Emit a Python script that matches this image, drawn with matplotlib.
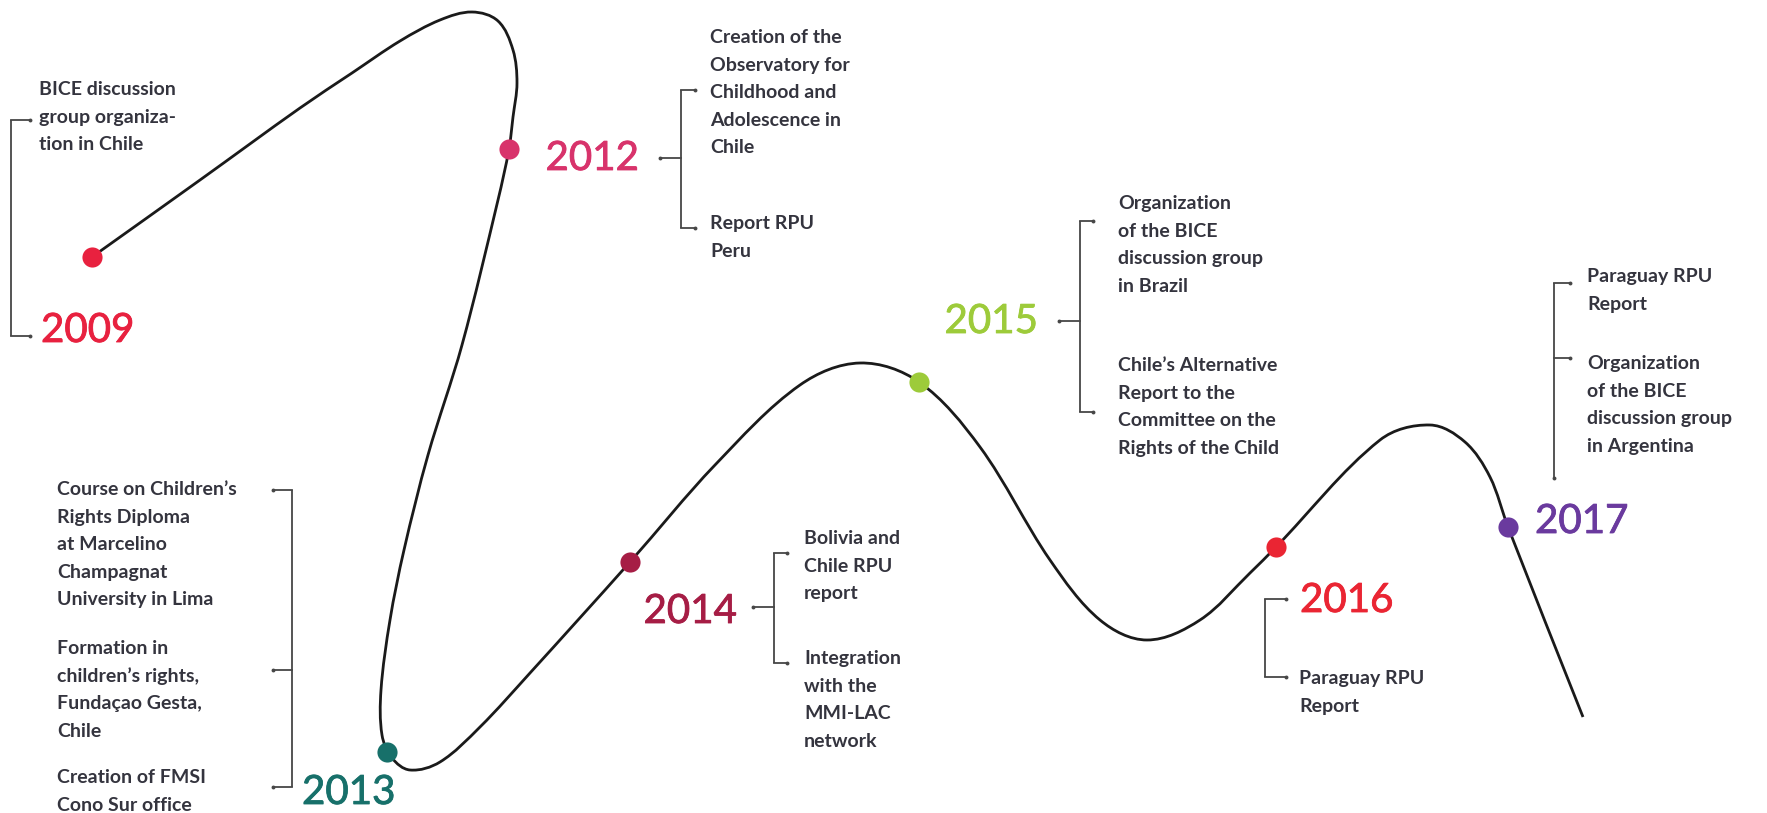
import numpy as np
import matplotlib
matplotlib.use("Agg")
import matplotlib.pyplot as plt
import matplotlib.patheffects as pe
from matplotlib.path import Path
from matplotlib.patches import PathPatch

# ---------------- data ----------------
years = ["2009", "2012", "2013", "2014", "2015", "2016", "2017"]
year_colors = ["#e8213f", "#d8336b", "#17706a", "#a61d45", "#9dcb3a", "#ea2533", "#6a3a9e"]

events = {
    "2009": ["BICE discussion\ngroup organiza-\ntion in Chile"],
    "2012": ["Creation of the\nObservatory for\nChildhood and\nAdolescence in\nChile",
             "Report RPU\nPeru"],
    "2013": ["Course on Children\u2019s\nRights Diploma\nat Marcelino\nChampagnat\nUniversity in Lima",
             "Formation in\nchildren\u2019s rights,\nFunda\u00e7ao Gesta,\nChile",
             "Creation of FMSI\nCono Sur office"],
    "2014": ["Bolivia and\nChile RPU\nreport",
             "Integration\nwith the\nMMI-LAC\nnetwork"],
    "2015": ["Organization\nof the BICE\ndiscussion group\nin Brazil",
             "Chile\u2019s Alternative\nReport to the\nCommittee on the\nRights of the Child"],
    "2016": ["Paraguay RPU\nReport"],
    "2017": ["Paraguay RPU\nReport",
             "Organization\nof the BICE\ndiscussion group\nin Argentina"],
}

# ---------------- layout (pixel coordinates) ----------------
W, H = 1767, 813
dot_x = [92, 509, 387, 630, 919, 1276, 1508]
dot_y = [257, 149, 752, 562, 382, 547, 527]

curve_x = [92, 200, 300, 352, 400, 440, 472, 498, 513, 517, 513, 509, 498, 462, 428, 404,
           390, 381, 382, 392, 410, 440, 480, 530, 630, 715, 800, 860, 919, 980, 1050,
           1100, 1147, 1200, 1250, 1276, 1380, 1430, 1465, 1490, 1508, 1583]
curve_y = [257, 180, 108, 73, 41, 20, 12, 21, 50, 83, 117, 149, 200, 345, 455, 550,
           620, 690, 735, 758, 770, 762, 727, 673, 562, 465, 385, 363, 382, 447, 560,
           620, 640, 620, 573, 547, 440, 425, 442, 477, 527, 717]

year_label = {  # (x, center_y, ha)
    "2009": (41, 327, "left"),
    "2012": (639, 155, "right"),
    "2013": (302, 789, "left"),
    "2014": (737, 608, "right"),
    "2015": (1038, 318, "right"),
    "2016": (1300, 597, "left"),
    "2017": (1535, 518, "left"),
}

event_pos = {  # (x_left, first line center y) per event
    "2009": [(39, 88)],
    "2012": [(710, 36), (710, 222)],
    "2013": [(57, 488), (57, 647), (57, 776)],
    "2014": [(804, 537), (804, 657)],
    "2015": [(1118, 202), (1118, 364)],
    "2016": [(1299, 677)],
    "2017": [(1587, 275), (1587, 362)],
}

brackets = {  # vertical x, y0, y1, tick ys, tick end x, stem (x_from, y) or None
    "2009": (11, 120, 336, [120, 336], 30, None),
    "2012": (681, 90, 228, [90, 228], 695, (660, 158)),
    "2013": (292, 490, 787, [490, 670, 787], 273, None),
    "2014": (774, 553, 663, [553, 663], 787, (753, 607)),
    "2015": (1080, 221, 412, [221, 412], 1093, (1059, 321)),
    "2016": (1265, 599, 677, [599, 677], 1286, None),
    "2017": (1554, 283, 478, [283, 358], 1570, None),
}

LINE = 27.5
TEXT_COLOR = "#34343e"
BR_COLOR = "#474747"

fig = plt.figure(figsize=(W / 100, H / 100), dpi=100)
ax = fig.add_axes([0, 0, 1, 1])
ax.set_xlim(0, W)
ax.set_ylim(H, 0)
ax.axis("off")

# ---- curve through waypoints as cubic Bezier path ----
P = np.column_stack([curve_x, curve_y]).astype(float)
n = len(P)
T = np.zeros_like(P)
for i in range(n):
    a = P[max(i - 1, 0)]
    b = P[min(i + 1, n - 1)]
    d = b - a
    T[i] = d / np.linalg.norm(d)
verts = [tuple(P[0])]
codes = [Path.MOVETO]
for i in range(n - 1):
    L = np.linalg.norm(P[i + 1] - P[i]) / 3.0
    c1 = P[i] + T[i] * L
    c2 = P[i + 1] - T[i + 1] * L
    verts += [tuple(c1), tuple(c2), tuple(P[i + 1])]
    codes += [Path.CURVE4] * 3
ax.add_patch(PathPatch(Path(verts, codes), fill=False, edgecolor="#1a1a1a",
                       lw=2.0, capstyle="butt", joinstyle="round", zorder=2))

# ---- dots ----
for yr, x, y, c in zip(years, dot_x, dot_y, year_colors):
    ax.plot([x], [y], "o", ms=14.5, color=c, mec="none", zorder=3)

# ---- year labels ----
for yr, c in zip(years, year_colors):
    x, cy, ha = year_label[yr]
    ax.text(x, cy + 15, yr, color=c, fontsize=29, family="Lato",
            ha=ha, va="baseline", zorder=4,
            path_effects=[pe.withStroke(linewidth=0.6, foreground=c)])

# ---- event texts ----
for yr in years:
    for txt, (x, y0) in zip(events[yr], event_pos[yr]):
        for k, line in enumerate(txt.split("\n")):
            ax.text(x, y0 + k * LINE + 7, line, color=TEXT_COLOR, fontsize=14,
                    family="Lato", fontweight="bold", ha="left", va="baseline")

# ---- brackets ----
for yr in years:
    vx, y0, y1, ticks, tx, stem = brackets[yr]
    ax.plot([vx, vx], [y0, y1], color=BR_COLOR, lw=1.3, solid_capstyle="butt")
    for ty in ticks:
        ax.plot([vx, tx], [ty, ty], color=BR_COLOR, lw=1.3)
        ax.plot([tx], [ty], "o", ms=2.8, color=BR_COLOR, mec="none")
    if stem is not None:
        sx, sy = stem
        ax.plot([sx, vx], [sy, sy], color=BR_COLOR, lw=1.3)
        ax.plot([sx], [sy], "o", ms=2.8, color=BR_COLOR, mec="none")
    if yr == "2017":
        ax.plot([vx], [y1], "o", ms=2.8, color=BR_COLOR, mec="none")

fig.savefig("out.png", dpi=100, facecolor="white")
